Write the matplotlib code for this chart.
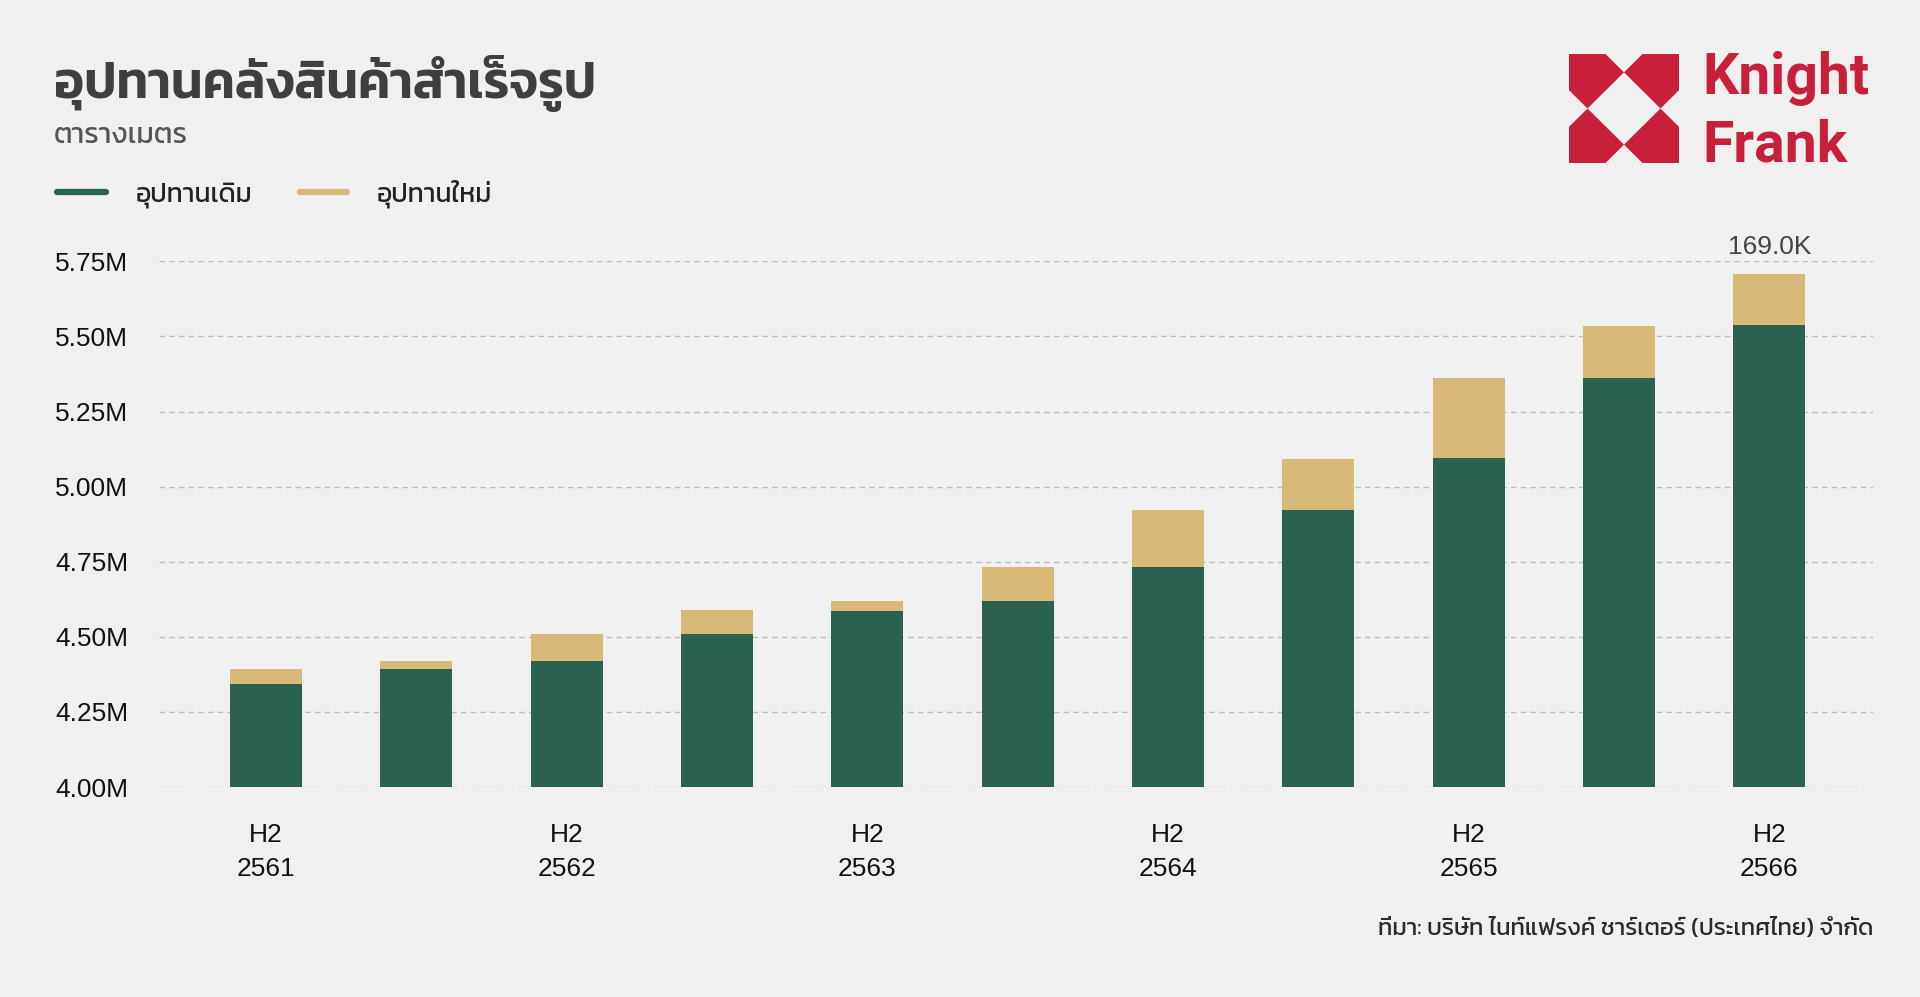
import matplotlib
matplotlib.use("Agg")
import matplotlib.pyplot as plt
from matplotlib.patches import Polygon, Rectangle
from matplotlib.lines import Line2D

# ---------------- data ----------------
periods = ["H2 2561", "H1 2562", "H2 2562", "H1 2563", "H2 2563", "H1 2564",
           "H2 2564", "H1 2565", "H2 2565", "H1 2566", "H2 2566"]
tick_labels = ["H2\n2561", "", "H2\n2562", "", "H2\n2563", "",
               "H2\n2564", "", "H2\n2565", "", "H2\n2566"]
existing_supply = [4.344, 4.392, 4.421, 4.508, 4.586, 4.618, 4.732, 4.921, 5.094, 5.362, 5.539]  # million sqm
new_supply = [0.048, 0.029, 0.087, 0.080, 0.032, 0.113, 0.189, 0.171, 0.267, 0.174, 0.169]
y_ticks = [4.00, 4.25, 4.50, 4.75, 5.00, 5.25, 5.50, 5.75]
series_names = ["อุปทานเดิม", "อุปทานใหม่"]
title = "อุปทานคลังสินค้าสำเร็จรูป"
subtitle = "ตารางเมตร"
source = "ที่มา: บริษัท ไนท์แฟรงค์ ชาร์เตอร์ (ประเทศไทย) จำกัด"

GREEN = "#2A6150"
TAN = "#D8B978"
BG = "#EFF0EF"
RED = "#C8203B"

THAI = ["Kanit", "Noto Sans Thai", "DejaVu Sans"]
LATIN = ["Liberation Sans", "DejaVu Sans"]

W, H = 1920, 997
fig = plt.figure(figsize=(W / 100, H / 100), dpi=100, facecolor=BG)


def fx(px):
    return px / W


def fy(py):
    return 1 - py / H


ax = fig.add_axes([fx(159), fy(787), fx(1873) - fx(159), fy(261.3) - fy(787)])
ax.set_facecolor(BG)

x = list(range(len(periods)))
ax.bar(x, [e - 4.0 for e in existing_supply], bottom=4.0, width=0.48, color=GREEN, zorder=3)
ax.bar(x, new_supply, bottom=existing_supply, width=0.48, color=TAN, zorder=3)

ax.set_ylim(4.0, 5.75)
ax.set_xlim(-0.712, 10.69)
ax.set_yticks(y_ticks)
ax.set_yticklabels([f"{v:.2f}M" for v in y_ticks], family=LATIN, fontsize=19, color="#111111")
ax.set_xticks(x)
ax.set_xticklabels(tick_labels, family=LATIN, fontsize=19, color="#111111", linespacing=1.54)
ax.tick_params(axis="both", length=0)
ax.tick_params(axis="y", pad=22)
ax.tick_params(axis="x", pad=26)
for s in ax.spines.values():
    s.set_visible(False)
ax.yaxis.grid(True, color="#BBBBBB", linestyle=(0, (4, 3)), linewidth=1.0, zorder=0)
ax.set_axisbelow(True)

# label on last bar
last = len(periods) - 1
ax.text(last, existing_supply[last] + new_supply[last] + 0.05, f"{new_supply[last] * 1000:.1f}K",
        ha="center", va="bottom", fontsize=19, family=LATIN, color="#444444")

# titles
fig.text(fx(54), fy(98), title, family=THAI, fontsize=36.5, fontweight="semibold", color="#3F3F3F",
         ha="left", va="baseline")
fig.text(fx(54), fy(143), subtitle, family=THAI, fontsize=20.7, fontweight="normal", color="#555555",
         ha="left", va="baseline")

# legend
for (x0, x1, tx), name, col in zip([(57, 106, 136), (300, 347, 377)], series_names, [GREEN, TAN]):
    fig.add_artist(Line2D([fx(x0), fx(x1)], [fy(192), fy(192)], color=col, linewidth=4.5,
                          solid_capstyle="round"))
    fig.text(fx(tx), fy(201), name, family=THAI, fontsize=19.1, fontweight="normal", color="#222222",
             ha="left", va="baseline")

# source
fig.text(fx(1873), fy(935), source, family=THAI, fontsize=17.2, fontweight="normal", color="#2A2A2A",
         ha="right", va="baseline")

# logo icon
lax = fig.add_axes([fx(1569), fy(163), fx(1679) - fx(1569), fy(54) - fy(163)])
lax.set_xlim(0, 110)
lax.set_ylim(0, 110)
lax.axis("off")
clip = Rectangle((0, 0), 110, 110, transform=lax.transData, facecolor="none", edgecolor="none")
lax.add_patch(clip)
r = 36.5
for cx, cy in [(18.5, 18.5), (91.5, 18.5), (18.5, 91.5), (91.5, 91.5)]:
    p = Polygon([(cx - r, cy), (cx, cy + r), (cx + r, cy), (cx, cy - r)], closed=True,
                facecolor=RED, edgecolor="none")
    lax.add_patch(p)
    p.set_clip_path(clip)

fig.text(fx(1702), fy(94), "Knight", family=["Roboto", "DejaVu Sans"], fontweight="bold",
         fontsize=41, color=RED, ha="left", va="baseline")
fig.text(fx(1702), fy(161), "Frank", family=["Roboto", "DejaVu Sans"], fontweight="bold",
         fontsize=41, color=RED, ha="left", va="baseline")

fig.savefig("out.png", dpi=100, facecolor=BG)
